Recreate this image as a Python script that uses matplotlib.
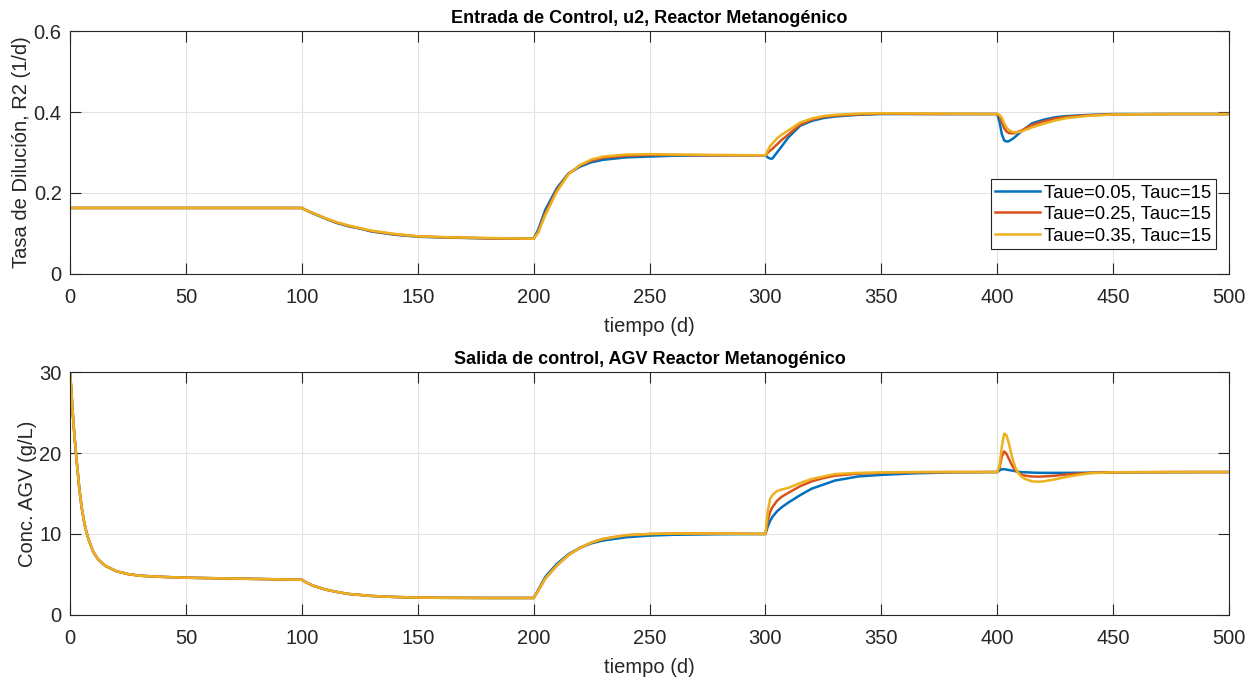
import matplotlib
matplotlib.use("Agg")
import matplotlib.pyplot as plt

plt.rcParams['font.family'] = ['Liberation Sans', 'DejaVu Sans']

# ---------------- Data ----------------
legend_labels = ["Taue=0.05, Tauc=15", "Taue=0.25, Tauc=15", "Taue=0.35, Tauc=15"]
colors = ["#0072BD", "#D95319", "#EDB120"]

# Top panel: dilution rate R2 (1/d)
t_u = [0, 100, 102, 105, 110, 115, 120, 125, 130, 140, 150, 160, 180, 200,
       202, 205, 210, 215, 220, 225, 230, 240, 250, 260, 280, 300,
       301, 302, 303, 305, 307, 310, 315, 320, 325, 330, 340, 350, 375, 400,
       401, 402, 403, 404, 405, 407, 410, 415, 420, 425, 430, 440, 450, 475, 500]
u_blue = [0.163, 0.163, 0.157, 0.149, 0.137, 0.126, 0.118, 0.112, 0.105, 0.097, 0.092, 0.090, 0.088, 0.087,
          0.110, 0.158, 0.212, 0.248, 0.265, 0.276, 0.282, 0.288, 0.290, 0.292, 0.293, 0.293,
          0.288, 0.285, 0.285, 0.300, 0.315, 0.338, 0.366, 0.378, 0.385, 0.389, 0.393, 0.395, 0.395, 0.395,
          0.375, 0.345, 0.330, 0.327, 0.328, 0.335, 0.350, 0.372, 0.381, 0.387, 0.390, 0.393, 0.395, 0.395, 0.395]
u_red = [0.163, 0.163, 0.157, 0.150, 0.138, 0.127, 0.119, 0.113, 0.106, 0.098, 0.093, 0.091, 0.088, 0.087,
         0.105, 0.150, 0.207, 0.247, 0.268, 0.280, 0.287, 0.292, 0.294, 0.294, 0.293, 0.293,
         0.299, 0.305, 0.309, 0.320, 0.331, 0.345, 0.369, 0.381, 0.388, 0.391, 0.394, 0.396, 0.395, 0.395,
         0.390, 0.375, 0.360, 0.352, 0.348, 0.347, 0.353, 0.368, 0.377, 0.384, 0.388, 0.392, 0.394, 0.395, 0.395]
u_yellow = [0.163, 0.163, 0.157, 0.150, 0.138, 0.128, 0.120, 0.113, 0.107, 0.099, 0.093, 0.091, 0.089, 0.087,
            0.102, 0.145, 0.203, 0.246, 0.269, 0.283, 0.290, 0.295, 0.296, 0.295, 0.294, 0.293,
            0.305, 0.316, 0.322, 0.335, 0.344, 0.355, 0.374, 0.384, 0.390, 0.393, 0.396, 0.397, 0.396, 0.395,
            0.393, 0.385, 0.372, 0.362, 0.355, 0.350, 0.351, 0.362, 0.371, 0.379, 0.385, 0.391, 0.394, 0.395, 0.395]

# Bottom panel: AGV concentration (g/L)
t_s = [0, 0.5, 1, 1.5, 2, 3, 4, 5, 6, 7, 8, 10, 12, 15, 20, 25, 30, 40, 50, 60, 70, 80, 90, 100,
       102, 105, 110, 115, 120, 130, 140, 150, 160, 180, 200,
       202, 205, 210, 215, 220, 225, 230, 240, 250, 260, 280, 300,
       301, 302, 303, 305, 307, 310, 315, 320, 325, 330, 340, 350, 365, 380, 400,
       401, 402, 403, 404, 405, 406, 407, 408, 409, 410, 412, 415, 418, 420, 425, 430, 435, 440, 450, 475, 500]
s_blue = [30.0, 28.0, 25.6, 23.6, 21.8, 18.6, 15.6, 13.3, 11.6, 10.3, 9.3, 7.8, 6.9, 6.1, 5.4, 5.05, 4.85, 4.7, 4.6, 4.55, 4.5, 4.45, 4.4, 4.35,
          4.0, 3.6, 3.15, 2.85, 2.6, 2.35, 2.22, 2.15, 2.12, 2.1, 2.1,
          3.1, 4.7, 6.3, 7.5, 8.3, 8.85, 9.2, 9.6, 9.8, 9.9, 9.97, 10.0,
          10.9, 11.6, 12.1, 12.8, 13.3, 13.9, 14.8, 15.6, 16.1, 16.6, 17.1, 17.3, 17.5, 17.6, 17.65,
          17.85, 18.0, 18.0, 17.95, 17.9, 17.85, 17.8, 17.75, 17.7, 17.65, 17.62, 17.58, 17.56, 17.55, 17.55, 17.55, 17.56, 17.57, 17.6, 17.63, 17.65]
s_red = [30.0, 28.0, 25.6, 23.6, 21.8, 18.6, 15.6, 13.3, 11.6, 10.3, 9.3, 7.8, 6.9, 6.1, 5.4, 5.05, 4.85, 4.7, 4.6, 4.55, 4.5, 4.45, 4.4, 4.35,
         4.0, 3.6, 3.15, 2.85, 2.6, 2.35, 2.22, 2.15, 2.12, 2.1, 2.1,
         3.0, 4.5, 6.1, 7.4, 8.3, 8.95, 9.4, 9.85, 10.0, 10.05, 10.05, 10.0,
         11.6, 12.7, 13.3, 14.1, 14.6, 15.1, 15.9, 16.5, 16.9, 17.2, 17.45, 17.55, 17.62, 17.65, 17.65,
         18.2, 19.6, 20.2, 19.9, 19.3, 18.7, 18.2, 17.8, 17.6, 17.4, 17.2, 17.1, 17.08, 17.1, 17.2, 17.35, 17.45, 17.55, 17.62, 17.65, 17.65]
s_yellow = [30.0, 28.0, 25.6, 23.6, 21.8, 18.6, 15.6, 13.3, 11.6, 10.3, 9.3, 7.8, 6.9, 6.1, 5.4, 5.05, 4.85, 4.7, 4.6, 4.55, 4.5, 4.45, 4.4, 4.35,
            4.0, 3.6, 3.15, 2.85, 2.6, 2.35, 2.22, 2.15, 2.12, 2.1, 2.1,
            3.0, 4.5, 6.1, 7.4, 8.3, 8.95, 9.4, 9.85, 10.0, 10.05, 10.05, 10.0,
            12.8, 14.3, 14.8, 15.3, 15.5, 15.7, 16.3, 16.8, 17.1, 17.4, 17.55, 17.6, 17.65, 17.65, 17.65,
            18.5, 20.8, 22.4, 22.2, 21.2, 20.0, 18.9, 18.1, 17.6, 17.2, 16.8, 16.5, 16.45, 16.5, 16.75, 17.05, 17.3, 17.5, 17.62, 17.65, 17.65]

x_ticks = [0, 50, 100, 150, 200, 250, 300, 350, 400, 450, 500]
top_yticks = [0, 0.2, 0.4, 0.6]
bot_yticks = [0, 10, 20, 30]

# ---------------- Figure ----------------
fig = plt.figure(figsize=(12.6, 6.79), dpi=100)
ax1 = fig.add_axes([0.0556, 0.5965, 0.9198, 0.3578])
ax2 = fig.add_axes([0.0556, 0.0943, 0.9198, 0.3578])

TXT = '#262626'

def style(ax):
    ax.set_xlim(0, 500)
    ax.set_xticks(x_ticks)
    ax.grid(True, color='#E3E3E3', linewidth=0.8)
    ax.set_axisbelow(True)
    ax.tick_params(direction='in', length=8, width=0.8, labelsize=14.5,
                   top=True, right=True, colors=TXT)
    ax.tick_params(axis='x', pad=10)
    ax.tick_params(axis='y', pad=6)
    for s in ax.spines.values():
        s.set_color(TXT)
        s.set_linewidth(0.8)
    ax.set_xlabel('tiempo (d)', fontsize=14.5, color=TXT, labelpad=7)

for vals, c, lab in zip([u_blue, u_red, u_yellow], colors, legend_labels):
    ax1.plot(t_u, vals, color=c, linewidth=1.8, label=lab)
style(ax1)
ax1.set_ylim(0, 0.6)
ax1.set_yticks(top_yticks)
ax1.set_yticklabels(['0', '0.2', '0.4', '0.6'])
ax1.set_ylabel('Tasa de Dilución, R2 (1/d)', fontsize=14.5, color=TXT, labelpad=2)
ax1.set_title('Entrada de Control, u2, Reactor Metanogénico', fontsize=13, fontweight='bold', pad=6)
leg = ax1.legend(loc='lower right', bbox_to_anchor=(0.989, 0.103), fontsize=13.3,
                 frameon=True, fancybox=False, edgecolor=TXT, framealpha=1,
                 borderpad=0.25, labelspacing=0.25, handlelength=2.4, handletextpad=0.25,
                 borderaxespad=0)
leg.get_frame().set_linewidth(0.8)
for t in leg.get_texts():
    t.set_color('black')

for vals, c in zip([s_blue, s_red, s_yellow], colors):
    ax2.plot(t_s, vals, color=c, linewidth=1.8)
style(ax2)
ax2.set_ylim(0, 30)
ax2.set_yticks(bot_yticks)
ax2.set_ylabel('Conc. AGV (g/L)', fontsize=14.5, color=TXT, labelpad=2)
ax2.set_title('Salida de control, AGV Reactor Metanogénico', fontsize=13, fontweight='bold', pad=6)

fig.savefig('out.png', dpi=100)
